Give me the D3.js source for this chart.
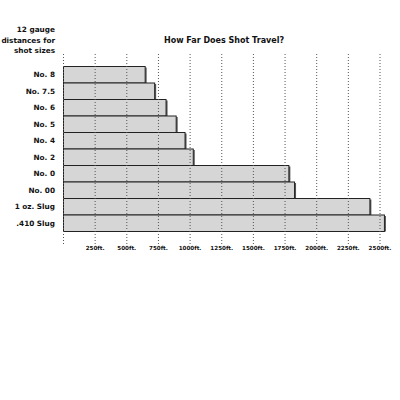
<!DOCTYPE html>
<html lang="en">
<head>
<meta charset="UTF-8">
<title>How Far Does Shot Travel?</title>
<script src="https://cdn.jsdelivr.net/npm/d3@7"></script>
<style>
  body { margin: 0; background: #fff; }
  text { font-family: "DejaVu Sans", sans-serif; font-weight: bold; fill: #111; }
  .grid line { stroke: #555; stroke-width: 1; stroke-dasharray: 1 2; }
</style>
</head>
<body>
<script>
// shot sizes and how far they carry (ft.)
var shots = ["No. 8", "No. 7.5", "No. 6", "No. 5", "No. 4", "No. 2", "No. 0", "No. 00", "1 oz. Slug", ".410 Slug"];
var distances = [645, 720, 810, 890, 960, 1025, 1780, 1825, 2420, 2535];
var ticks = [0, 250, 500, 750, 1000, 1250, 1500, 1750, 2000, 2250, 2500];

var width = 400, height = 400;

var svg = d3.select("body").append("svg")
  .attr("width", width)
  .attr("height", height);

var x = d3.scaleLinear().domain([0, 2500]).range([63.5, 380]);
var y = d3.scaleBand().domain(shots).range([66.5, 231.5]).padding(0);

// title
svg.append("text")
  .attr("x", 224).attr("y", 43)
  .attr("text-anchor", "middle")
  .style("font-size", "8px")
  .text("How Far Does Shot Travel?");

// axis caption, top left
var cap = ["12 gauge", "distances for", "shot sizes"];
svg.selectAll(".cap").data(cap).enter().append("text")
  .attr("class", "cap")
  .attr("x", 55)
  .attr("y", function(d, i) { return 32 + i * 10.5; })
  .attr("text-anchor", "end")
  .style("font-size", "7.3px")
  .text(function(d) { return d; });

// bars, with a small dark shadow at the right
var bar = svg.selectAll(".bar").data(shots).enter().append("g").attr("class", "bar");

bar.append("rect")
  .attr("x", function(d, i) { return x(distances[i]); })
  .attr("y", function(d) { return y(d) + 1; })
  .attr("width", 1.5)
  .attr("height", y.bandwidth() - 1)
  .attr("fill", "#555");

bar.append("rect")
  .attr("x", x(0))
  .attr("y", function(d) { return y(d); })
  .attr("width", function(d, i) { return x(distances[i]) - x(0); })
  .attr("height", y.bandwidth())
  .attr("fill", "#d6d6d6")
  .attr("stroke", "#222")
  .attr("stroke-width", 1);

// dotted grid on top
svg.append("g").attr("class", "grid")
  .selectAll("line").data(ticks).enter().append("line")
  .attr("x1", function(d) { return x(d); })
  .attr("x2", function(d) { return x(d); })
  .attr("y1", 54).attr("y2", 244);

// category labels
svg.selectAll(".cat").data(shots).enter().append("text")
  .attr("class", "cat")
  .attr("x", 55)
  .attr("y", function(d) { return y(d) + y.bandwidth() / 2; })
  .attr("dy", "0.35em")
  .attr("text-anchor", "end")
  .style("font-size", "7.3px")
  .text(function(d) { return d; });

// bottom tick labels
svg.selectAll(".tick-label").data(ticks.slice(1)).enter().append("text")
  .attr("class", "tick-label")
  .attr("x", function(d) { return x(d); })
  .attr("y", 250)
  .attr("text-anchor", "middle")
  .style("font-size", "5.6px")
  .text(function(d) { return d + "ft."; });
</script>
</body>
</html>
